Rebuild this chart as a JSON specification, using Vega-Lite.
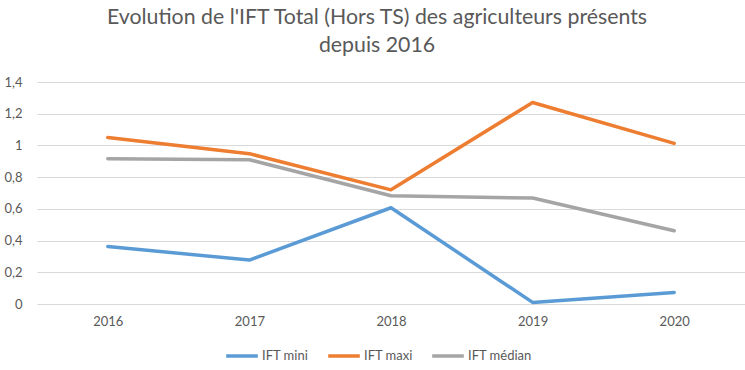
{
  "$schema": "https://vega.github.io/schema/vega-lite/v6.json",
  "width": 708,
  "height": 222,
  "autosize": "none",
  "padding": {"left": 37, "top": 82, "right": 0, "bottom": 66},
  "background": "white",
  "title": {
    "text": ["Evolution de l'IFT Total (Hors TS) des agriculteurs présents", "depuis 2016"],
    "fontSize": 21.3,
    "font": "Lato",
    "fontWeight": "normal",
    "color": "#595959",
    "anchor": "middle",
    "dx": -14,
    "offset": 20,
    "lineHeight": 28
  },
  "data": {
    "values": [
      {"annee": "2016", "serie": "IFT mini", "ift": 0.363},
      {"annee": "2017", "serie": "IFT mini", "ift": 0.277},
      {"annee": "2018", "serie": "IFT mini", "ift": 0.607},
      {"annee": "2019", "serie": "IFT mini", "ift": 0.01},
      {"annee": "2020", "serie": "IFT mini", "ift": 0.073},
      {"annee": "2016", "serie": "IFT maxi", "ift": 1.05},
      {"annee": "2017", "serie": "IFT maxi", "ift": 0.948},
      {"annee": "2018", "serie": "IFT maxi", "ift": 0.72},
      {"annee": "2019", "serie": "IFT maxi", "ift": 1.271},
      {"annee": "2020", "serie": "IFT maxi", "ift": 1.013},
      {"annee": "2016", "serie": "IFT médian", "ift": 0.916},
      {"annee": "2017", "serie": "IFT médian", "ift": 0.91},
      {"annee": "2018", "serie": "IFT médian", "ift": 0.683},
      {"annee": "2019", "serie": "IFT médian", "ift": 0.668},
      {"annee": "2020", "serie": "IFT médian", "ift": 0.462}
    ]
  },
  "mark": {"type": "line", "strokeWidth": 3.5, "strokeCap": "round", "strokeJoin": "round"},
  "encoding": {
    "x": {
      "field": "annee",
      "type": "ordinal",
      "scale": {"type": "point", "padding": 0.5},
      "axis": {
        "title": null,
        "labelAngle": 0,
        "domain": false,
        "ticks": false,
        "grid": false,
        "labelFont": "Lato",
        "labelFontSize": 13,
        "labelColor": "#595959",
        "labelPadding": 11
      }
    },
    "y": {
      "field": "ift",
      "type": "quantitative",
      "scale": {"domain": [0, 1.4], "nice": false},
      "axis": {
        "title": null,
        "values": [0, 0.2, 0.4, 0.6, 0.8, 1, 1.2, 1.4],
        "labelExpr": "replace(format(datum.value, '~g'), '.', ',')",
        "domain": false,
        "ticks": false,
        "grid": true,
        "gridColor": "#d9d9d9",
        "gridWidth": 1,
        "labelFont": "Lato",
        "labelFontSize": 13,
        "labelColor": "#595959",
        "labelPadding": 15
      }
    },
    "color": {
      "field": "serie",
      "type": "nominal",
      "scale": {"domain": ["IFT mini", "IFT maxi", "IFT médian"], "range": ["#5b9bd5", "#ed7d31", "#a5a5a5"]},
      "legend": {
        "title": null,
        "orient": "none",
        "direction": "horizontal",
        "legendX": 187,
        "legendY": 256,
        "padding": 0,
        "symbolType": "stroke",
        "symbolStrokeWidth": 3.5,
        "symbolSize": 1000,
        "labelFont": "Lato",
        "labelFontSize": 13,
        "labelColor": "#595959",
        "labelOffset": 2,
        "columnPadding": 12
      }
    }
  },
  "config": {"view": {"stroke": null}}
}
